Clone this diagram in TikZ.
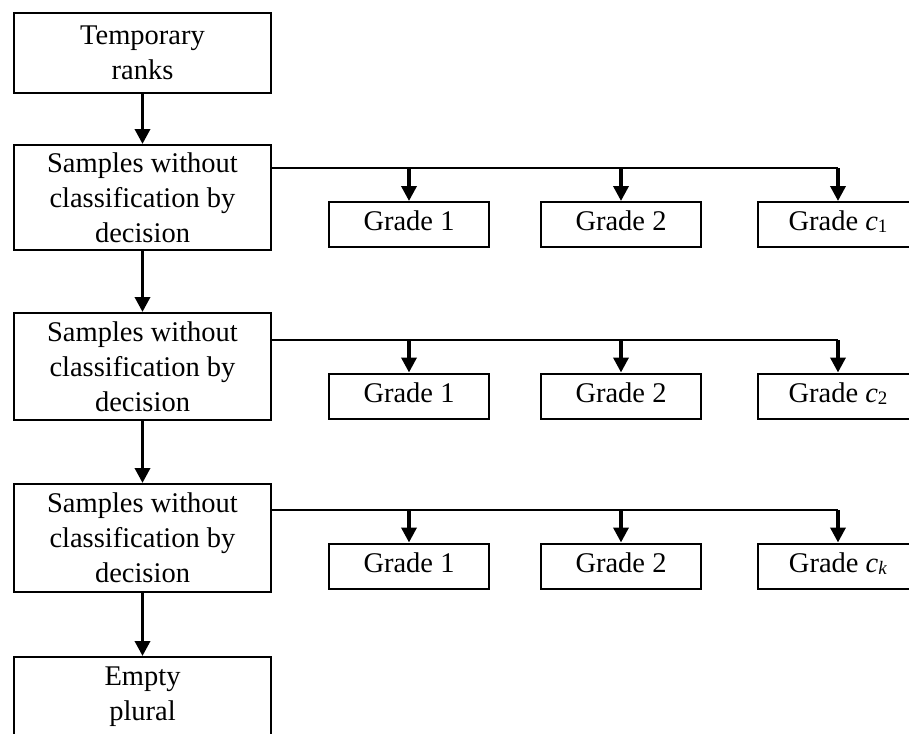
\documentclass[tikz,border=0pt]{standalone}
\usepackage{fontspec}
\setmainfont{Liberation Serif}
\usetikzlibrary{arrows.meta}

\begin{document}
\begin{tikzpicture}[x=1pt,y=-1pt,
	mainbox/.style={draw, line width=2pt, minimum width=257pt, inner sep=0pt, align=center,
		font=\fontsize{28.5}{35}\selectfont},
	gradebox/.style={draw, line width=2pt, minimum width=160pt, minimum height=45pt, inner sep=0pt,
		text height=19pt, text depth=7pt, font=\fontsize{28.5}{35}\selectfont},
	arr/.style={line width=3.5pt, -{Triangle[width=15pt,length=15pt]}},
	branch/.style={line width=2.5pt}]
	\useasboundingbox (0,0) rectangle (909,733);
	\clip (0,0) rectangle (909,733);
	\node[mainbox, minimum height=80pt] (ranks) at (142.5,53) {Temporary\\ranks};
	\node[mainbox, minimum height=80pt] (empty) at (142.5,697) {Empty\\plural};
	\foreach \yb/\yg/\yh/\hb/\sub [count=\i] in {197.5/224.5/168/105/1, 366.5/396/340/107/2, 538/566/510/108/\textit{k}}
	{
		\node[mainbox, minimum height=\hb pt] (samples\i) at (142.5,\yb) {Samples without\\classification by\\decision};
		\node[gradebox] (ga\i) at (409,\yg) {Grade 1};
		\node[gradebox] (gb\i) at (621,\yg) {Grade 2};
		\node[gradebox] (gc\i) at (838,\yg) {Grade \textit{c}\raisebox{-2pt}{\fontsize{19}{19}\selectfont\sub}};
		\coordinate (h\i) at (samples\i.east |- 0,\yh);
		\draw[branch] (h\i) -- (h\i -| gc\i.north);
		\draw[arr] (h\i -| ga\i.north) -- (ga\i.north);
		\draw[arr] (h\i -| gb\i.north) -- (gb\i.north);
		\draw[arr] (h\i -| gc\i.north) -- (gc\i.north);
	}
	\draw[arr] (ranks.south) -- (samples1.north);
	\draw[arr] (samples1.south) -- (samples2.north);
	\draw[arr] (samples2.south) -- (samples3.north);
	\draw[arr] (samples3.south) -- (empty.north);
\end{tikzpicture}
\end{document}
